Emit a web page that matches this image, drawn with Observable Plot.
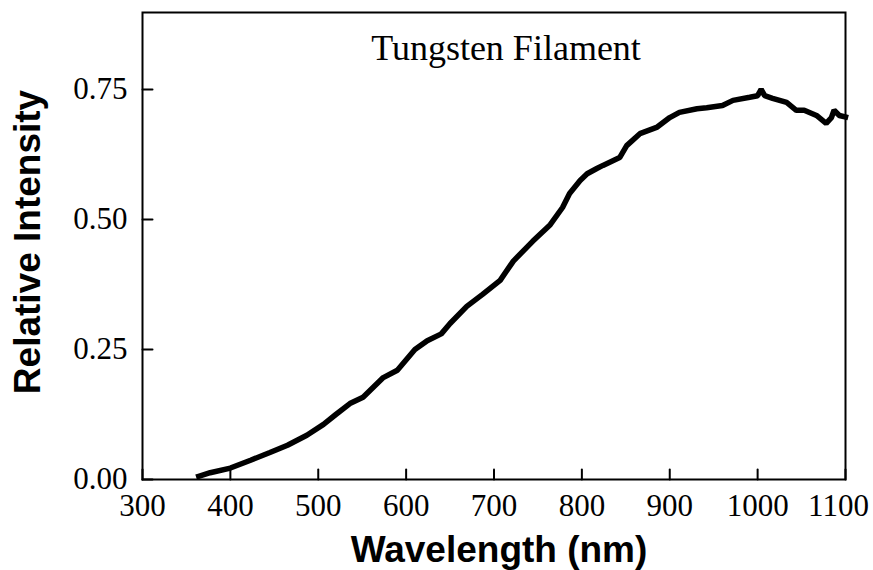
<!DOCTYPE html>
<html>
<head>
<meta charset="utf-8">
<script src="https://cdn.jsdelivr.net/npm/d3@7"></script>
<script src="https://cdn.jsdelivr.net/npm/@observablehq/plot@0.6"></script>
<style>
  html, body { margin: 0; padding: 0; background: #fff; }
  #chart svg { display: block; background: #fff; }
</style>
</head>
<body>
<div id="chart"></div>
<script>
// Wavelength (nm)
const wavelength = [364, 377, 400, 423, 445, 465, 487, 506, 520, 536, 551, 574, 590, 610, 624, 640, 650, 669, 687, 707, 722, 744, 764, 778, 786, 798, 806, 817, 824, 843, 851, 866, 885, 900, 911, 931, 942, 960, 972, 991, 1000, 1004, 1008, 1017, 1033, 1044, 1053, 1067, 1078, 1084, 1087, 1093, 1100];
// Relative intensity
const intensity = [0.006, 0.013, 0.022, 0.037, 0.052, 0.066, 0.085, 0.106, 0.125, 0.146, 0.158, 0.196, 0.21, 0.25, 0.267, 0.28, 0.30, 0.333, 0.356, 0.383, 0.42, 0.458, 0.49, 0.523, 0.55, 0.575, 0.588, 0.598, 0.604, 0.619, 0.642, 0.665, 0.677, 0.696, 0.706, 0.713, 0.715, 0.719, 0.729, 0.735, 0.738, 0.75, 0.738, 0.733, 0.725, 0.71, 0.71, 0.70, 0.685, 0.696, 0.71, 0.70, 0.697];
const xTicks = [300, 400, 500, 600, 700, 800, 900, 1000];
const xTickLast = [1100];
const yTicks = [0, 0.25, 0.5, 0.75];
const title = "Tungsten Filament";
const xLabel = "Wavelength (nm)";
const yLabel = "Relative Intensity";

const data = wavelength.map((w, i) => ({w, v: intensity[i]}));

const serif = "'Liberation Serif', 'Times New Roman', serif";
const sans = "'Liberation Sans', Arial, sans-serif";

const tickUp = {draw(ctx, l) { ctx.moveTo(0, 0); ctx.lineTo(0, -l); }};
const allXTicks = xTicks.concat(xTickLast);

const chart = Plot.plot({
  width: 873,
  height: 570,
  marginTop: 12,
  marginBottom: 91,
  marginLeft: 142,
  marginRight: 28,
  style: {background: "#fff", color: "#000"},
  x: {domain: [300, 1100]},
  y: {domain: [0, 0.898]},
  marks: [
    Plot.frame({stroke: "#000", strokeWidth: 2}),
    Plot.vector(allXTicks, {x: d => d, y: 0, length: 10, rotate: 0, anchor: "start", shape: tickUp, stroke: "#000", strokeWidth: 2}),
    Plot.vector(yTicks, {x: 300, y: d => d, length: 10, rotate: 90, anchor: "start", shape: tickUp, stroke: "#000", strokeWidth: 2}),
    Plot.axisX({ticks: xTicks, tickSize: 0, tickPadding: 14, tickFormat: d => String(d), label: null, fontSize: 31, fontFamily: serif, fill: "#000"}),
    Plot.axisX({ticks: xTickLast, tickSize: 0, tickPadding: 14, dx: -7, tickFormat: d => String(d), label: null, fontSize: 31, fontFamily: serif, fill: "#000"}),
    Plot.axisY({ticks: yTicks, tickSize: 0, tickPadding: 15, tickFormat: d3.format(".2f"), label: null, fontSize: 31, fontFamily: serif, fill: "#000"}),
    Plot.line(data, {x: "w", y: "v", stroke: "#000", strokeWidth: 5.5, strokeLinejoin: "miter", strokeLinecap: "square"}),
    Plot.text([title], {frameAnchor: "top", lineAnchor: "bottom", dx: 12, dy: 47, fontSize: 36, fontFamily: serif, fill: "#000"}),
    Plot.text([xLabel], {frameAnchor: "bottom", lineAnchor: "bottom", dx: 5, dy: 82, fontSize: 37, fontWeight: "bold", fontFamily: sans, fill: "#000"}),
    Plot.text([yLabel], {frameAnchor: "left", textAnchor: "middle", lineAnchor: "bottom", rotate: -90, dx: -103, dy: -4, fontSize: 37, fontWeight: "bold", fontFamily: sans, fill: "#000"})
  ]
});
document.getElementById("chart").appendChild(chart);
</script>
</body>
</html>
